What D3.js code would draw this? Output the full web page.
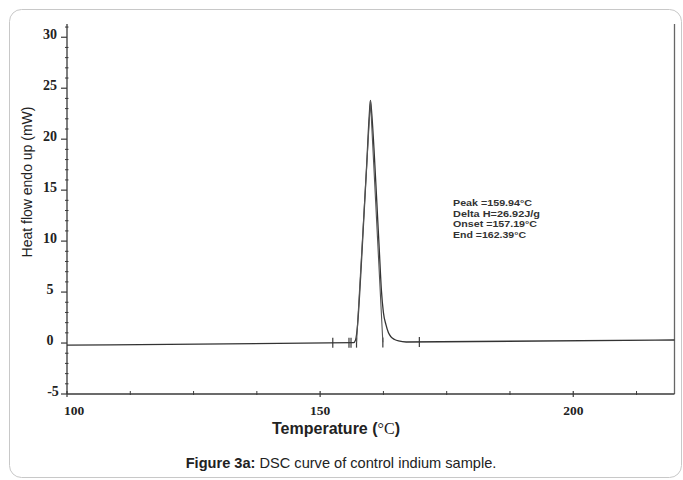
<!DOCTYPE html>
<html><head><meta charset="utf-8">
<script src="https://cdn.jsdelivr.net/npm/d3@7"></script>
<style>body{margin:0;background:#fff}svg{display:block}</style>
</head><body>
<script>
// ---- data ----
const tempC    = [100, 156.6, 157.0, 157.4, 158.0, 158.6, 159.2, 159.7, 159.94, 160.2, 160.7, 161.2, 161.7, 162.1, 162.5, 163.0, 163.5, 164.0, 164.7, 165.5, 167.0, 220];
const heatFlow = [-0.2, 0.04, 0.3, 1.8, 6.5, 12.0, 17.5, 22.3, 23.8, 22.5, 18.5, 13.8, 9.0, 5.2, 3.0, 1.8, 1.0, 0.6, 0.35, 0.2, 0.1, 0.3];
const tangentT = [157.19, 159.94, 162.39];
const tangentH = [0.04, 23.8, 0.08];
const markerT  = [152.5, 155.7, 156.1, 157.19, 162.39, 169.6];
const xTicks   = [100, 150, 200];
const xMinor   = [112.5, 125, 137.5, 162.5, 175, 187.5, 212.5];
const yTicks   = [-5, 0, 5, 10, 15, 20, 25, 30];
const annotations = ["Peak =159.94°C", "Delta H=26.92J/g", "Onset =157.19°C", "End =162.39°C"];

const W = 683, H = 480;
const svg = d3.select("body").append("svg").attr("width", W).attr("height", H);

svg.append("rect").attr("x", 9.5).attr("y", 9.5).attr("width", 672).attr("height", 468)
  .attr("rx", 12).attr("fill", "none").attr("stroke", "#c8c8c8");

const x = d3.scaleLinear().domain([100, 220]).range([67, 674.5]);
const y = d3.scaleLinear().domain([-5, 31.3]).range([394, 24]);
const ink = "#3a3a3a";

// axes frame
svg.append("line").attr("x1", x(100)).attr("x2", x(100)).attr("y1", y(31.3)).attr("y2", y(-5)).attr("stroke", ink).attr("stroke-width", 1.3);
svg.append("line").attr("x1", x(220)).attr("x2", x(220)).attr("y1", y(31.3)).attr("y2", y(-5)).attr("stroke", "#666").attr("stroke-width", 1.3);
svg.append("line").attr("x1", x(100)).attr("x2", x(220)).attr("y1", y(-5)).attr("y2", y(-5)).attr("stroke", ink).attr("stroke-width", 1.3);

// y ticks
const yMinor = d3.range(-5, 31.01, 1).filter(v => v % 5 !== 0);
svg.selectAll(".ym").data(yMinor).enter().append("line")
  .attr("x1", x(100) - 2).attr("x2", x(100) + 1.5).attr("y1", d => y(d)).attr("y2", d => y(d))
  .attr("stroke", ink).attr("stroke-width", 1);
svg.selectAll(".yM").data(yTicks).enter().append("line")
  .attr("x1", x(100) - 6).attr("x2", x(100)).attr("y1", d => y(d)).attr("y2", d => y(d))
  .attr("stroke", ink).attr("stroke-width", 1.2);
svg.selectAll(".yl").data(yTicks).enter().append("text")
  .attr("x", d => d < 0 ? 53 : 50).attr("y", d => y(d) + 2)
  .attr("text-anchor", "middle").attr("font-family", "Liberation Serif").attr("font-weight", "bold")
  .attr("font-size", 14).attr("fill", "#222").text(d => d);

// x ticks
svg.selectAll(".xm").data(xMinor).enter().append("line")
  .attr("x1", d => x(d)).attr("x2", d => x(d)).attr("y1", y(-5) - 3).attr("y2", y(-5) + 1)
  .attr("stroke", ink).attr("stroke-width", 1);
svg.selectAll(".xM").data(xTicks).enter().append("line")
  .attr("x1", d => x(d)).attr("x2", d => x(d)).attr("y1", y(-5) - 3).attr("y2", y(-5) + 3)
  .attr("stroke", ink).attr("stroke-width", 1.2);
svg.selectAll(".xl").data(xTicks).enter().append("text")
  .attr("x", d => x(d) + (d === 100 ? 7 : 0)).attr("y", 415)
  .attr("text-anchor", "middle").attr("font-family", "Liberation Serif").attr("font-weight", "bold")
  .attr("font-size", 13.5).attr("fill", "#222").text(d => d);

// markers on baseline
const baseAt = t => -0.2 + (t - 100) / 240;
svg.selectAll(".mk").data(markerT).enter().append("line")
  .attr("x1", d => x(d)).attr("x2", d => x(d)).attr("y1", d => y(baseAt(d)) - 5).attr("y2", d => y(baseAt(d)) + 5)
  .attr("stroke", ink).attr("stroke-width", 1.2);

// curve
const pts = tempC.map((t, i) => [t, heatFlow[i]]);
const line = d3.line().x(d => x(d[0])).y(d => y(d[1])).curve(d3.curveMonotoneX);
svg.append("path").attr("d", line(pts)).attr("fill", "none").attr("stroke", "#333").attr("stroke-width", 1.3);
const tan = tangentT.map((t, i) => [t, tangentH[i]]);
svg.append("path").attr("d", d3.line().x(d => x(d[0])).y(d => y(d[1]))(tan))
  .attr("fill", "none").attr("stroke", "#555").attr("stroke-width", 1.1);

// annotation
svg.selectAll(".an").data(annotations).enter().append("text")
  .attr("x", 453).attr("y", (d, i) => 206 + i * 10.6)
  .attr("font-family", "Liberation Sans").attr("font-weight", "bold").attr("font-size", 9.6)
  .attr("textLength", (d, i) => [79, 87, 84, 73][i]).attr("lengthAdjust", "spacingAndGlyphs")
  .attr("fill", "#333").text(d => d);

// axis titles
svg.append("text").attr("transform", "translate(32,182) rotate(-90)")
  .attr("text-anchor", "middle").attr("font-family", "Liberation Sans").attr("font-size", 14)
  .attr("fill", "#222").text("Heat flow endo up (mW)");
const xt = svg.append("text").attr("x", 336).attr("y", 434).attr("text-anchor", "middle")
  .attr("font-family", "Liberation Sans").attr("font-size", 16).attr("fill", "#222");
xt.append("tspan").attr("font-weight", "bold").text("Temperature (");
xt.append("tspan").attr("font-family", "Liberation Serif").text("°C");
xt.append("tspan").attr("font-weight", "bold").text(")");

const cap = svg.append("text").attr("x", 341).attr("y", 468).attr("text-anchor", "middle")
  .attr("font-family", "Liberation Sans").attr("font-size", 14.6).attr("fill", "#222");
cap.append("tspan").attr("font-weight", "bold").text("Figure 3a:");
cap.append("tspan").text(" DSC curve of control indium sample.");
</script>
</body></html>
